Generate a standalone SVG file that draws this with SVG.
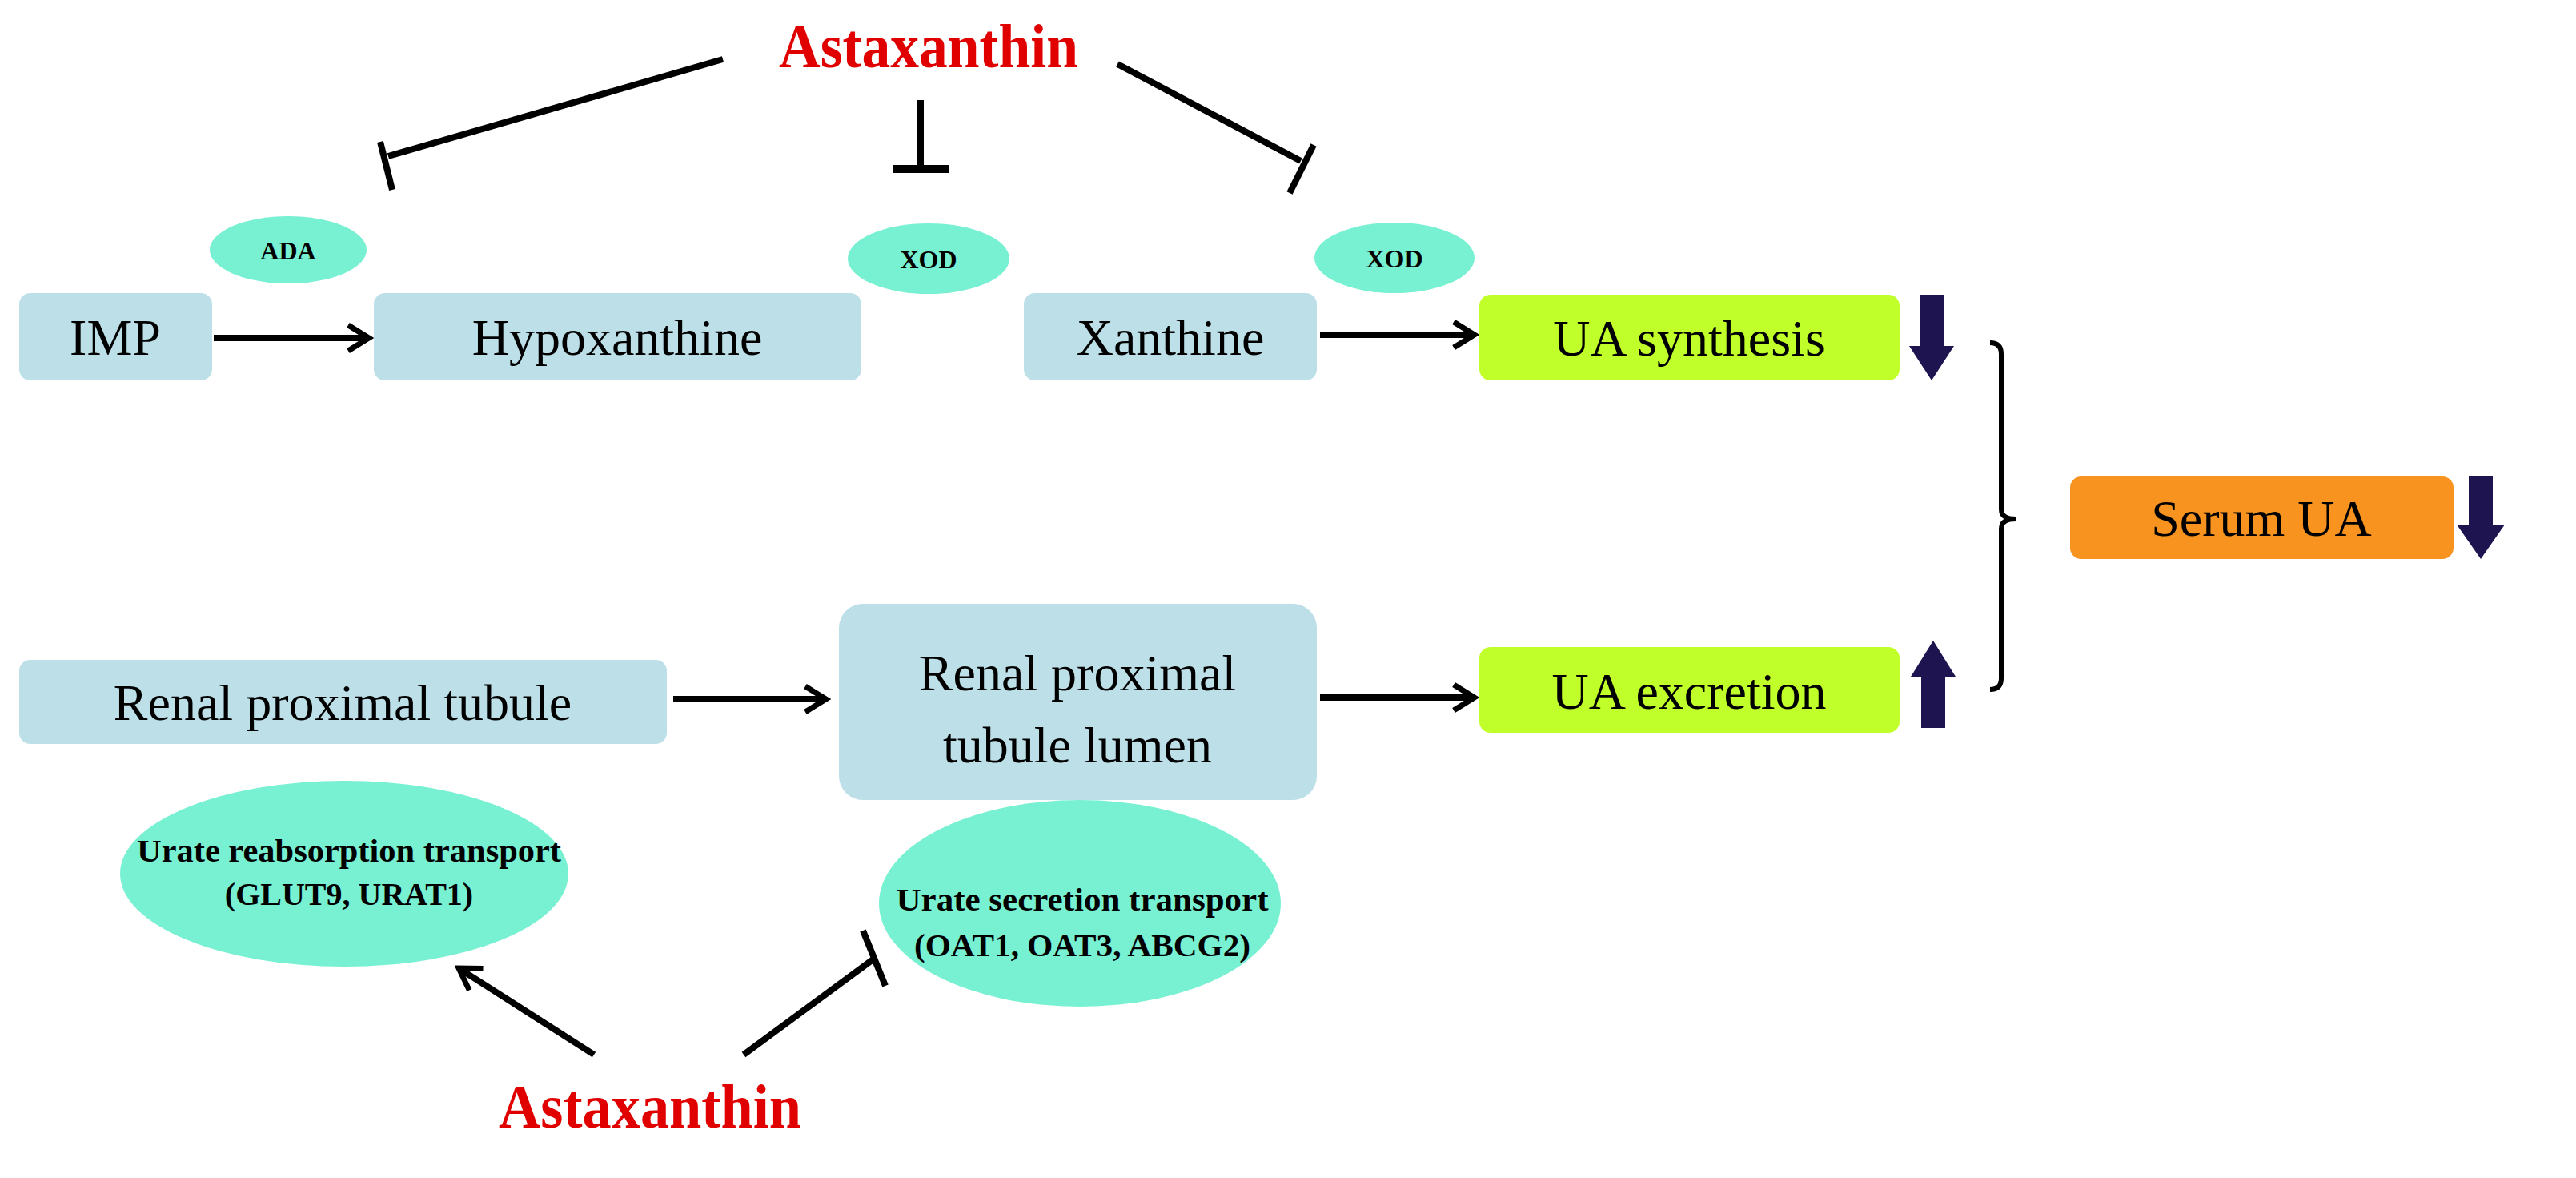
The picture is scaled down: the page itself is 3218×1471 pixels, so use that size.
<svg xmlns="http://www.w3.org/2000/svg" width="3218" height="1471" viewBox="0 0 3218 1471">
<style>
.box{fill:#BCDFE8}
.green{fill:#C0FF2A}
.orange{fill:#F7931E}
.ell{fill:#78F0D2}
.t{font-family:"Liberation Serif",serif;font-size:64px;fill:#000;text-anchor:middle}
.s{font-family:"Liberation Serif",serif;font-size:32px;font-weight:bold;fill:#000;text-anchor:middle}
.m{font-family:"Liberation Serif",serif;font-size:40px;font-weight:bold;fill:#000;text-anchor:middle}
.red{font-family:"Liberation Serif",serif;font-size:78px;font-weight:bold;fill:#E00000;text-anchor:middle}
.ln{stroke:#000;stroke-width:8;fill:none}
.nv{fill:#1E1450}
</style>
<defs>
<marker id="ah" viewBox="0 0 10 10" refX="8.5" refY="5" markerWidth="5" markerHeight="5" markerUnits="strokeWidth" orient="auto">
<path d="M2,1 L8.5,5 L2,9" fill="none" stroke="#000" stroke-width="1.7"/>
</marker>
</defs>
<g id="ast-top"><text class="red" x="1160" y="84" textLength="374" lengthAdjust="spacingAndGlyphs">Astaxanthin</text></g>
<g id="ada"><ellipse class="ell" cx="360" cy="312" rx="98" ry="42"/><text class="s" x="360" y="324">ADA</text></g>
<g id="xod1"><ellipse class="ell" cx="1160" cy="323" rx="101" ry="44"/><text class="s" x="1160" y="335">XOD</text></g>
<g id="xod2"><ellipse class="ell" cx="1742" cy="322" rx="100" ry="44"/><text class="s" x="1742" y="334">XOD</text></g>
<g id="imp"><rect class="box" x="24" y="366" width="241" height="109" rx="14"/><text class="t" x="144" y="443">IMP</text></g>
<g id="hypo"><rect class="box" x="467" y="366" width="609" height="109" rx="14"/><text class="t" x="771" y="443">Hypoxanthine</text></g>
<g id="xan"><rect class="box" x="1279" y="366" width="366" height="109" rx="14"/><text class="t" x="1462" y="443">Xanthine</text></g>
<g id="uasyn"><rect class="green" x="1848" y="368" width="525" height="107" rx="14"/><text class="t" x="2110" y="444">UA synthesis</text>
<path class="nv" d="M2398,368 H2428 V432 H2441 L2413,475 L2385,432 H2398 Z"/></g>
<g id="serum"><rect class="orange" x="2586" y="595" width="479" height="103" rx="14"/><text class="t" x="2825" y="669">Serum UA</text>
<path class="nv" d="M3084,595 H3114 V655 H3129 L3099,698 L3069,655 H3084 Z"/></g>
<g id="uaexc"><rect class="green" x="1848" y="808" width="525" height="107" rx="14"/><text class="t" x="2110" y="885">UA excretion</text>
<path class="nv" d="M2400,909 H2430 V845 H2443 L2415,800 L2387,845 H2400 Z"/></g>
<g id="rpt"><rect class="box" x="24" y="824" width="809" height="105" rx="14"/><text class="t" x="428" y="899">Renal proximal  tubule</text></g>
<g id="lumen"><rect class="box" x="1048" y="754" width="597" height="245" rx="30"/><text class="t" x="1346" y="862">Renal proximal</text><text class="t" x="1346" y="952">tubule lumen</text></g>
<g id="reab"><ellipse class="ell" cx="430" cy="1091" rx="280" ry="116"/><text class="m" x="436" y="1076" textLength="530" lengthAdjust="spacingAndGlyphs">Urate reabsorption transport</text><text class="m" x="436" y="1130">(GLUT9, URAT1)</text></g>
<g id="secr"><ellipse class="ell" cx="1349" cy="1128" rx="251" ry="129"/><text class="m" x="1352" y="1137" textLength="465" lengthAdjust="spacingAndGlyphs">Urate secretion transport</text><text class="m" x="1352" y="1194" textLength="420" lengthAdjust="spacingAndGlyphs">(OAT1, OAT3, ABCG2)</text></g>
<g id="ast-bot"><text class="red" x="812" y="1408" textLength="378" lengthAdjust="spacingAndGlyphs">Astaxanthin</text></g>
<g id="connectors">
<line class="ln" x1="903" y1="74" x2="485" y2="195"/><line class="ln" x1="475" y1="177" x2="490" y2="237"/>
<line class="ln" x1="1150" y1="125" x2="1150" y2="207"/><line class="ln" x1="1116" y1="211" x2="1186" y2="211" style="stroke-width:10"/>
<line class="ln" x1="1396" y1="80" x2="1625" y2="201"/><line class="ln" x1="1641" y1="181" x2="1611" y2="241"/>
<line class="ln" x1="267" y1="422" x2="461" y2="422" marker-end="url(#ah)"/>
<line class="ln" x1="1649" y1="418" x2="1842" y2="418" marker-end="url(#ah)"/>
<line class="ln" x1="841" y1="873" x2="1032" y2="873" marker-end="url(#ah)"/>
<line class="ln" x1="1649" y1="871" x2="1842" y2="871" marker-end="url(#ah)"/>
<path d="M2486,428 Q2500,428 2500,442 V636 Q2500,648 2518,648 M2518,648 Q2500,648 2500,660 V847 Q2500,861 2486,861" fill="none" stroke="#000" stroke-width="6"/>
<line class="ln" x1="742" y1="1317" x2="573" y2="1209" marker-end="url(#ah)"/>
<line class="ln" x1="929" y1="1317" x2="1092" y2="1197"/><line class="ln" x1="1078" y1="1162" x2="1106" y2="1231"/>
</g>
</svg>
